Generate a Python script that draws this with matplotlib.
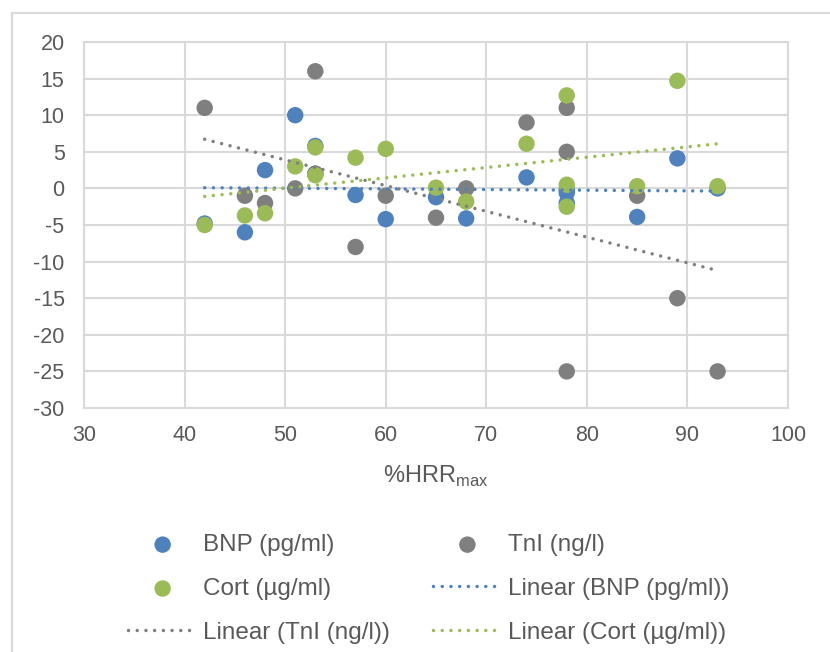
import matplotlib
matplotlib.use("Agg")
import matplotlib.pyplot as plt
import numpy as np
from matplotlib.lines import Line2D

# %HRRmax per subject and change in each biomarker
hrr = [42, 46, 48, 51, 53, 53, 57, 60, 65, 68, 74, 78, 78, 78, 85, 89, 93]
bnp = [-4.8, -6.0, 2.5, 10.0, 5.8, 2.0, -0.9, -4.2, -1.2, -4.1, 1.5,
       -0.6, -2.0, -0.2, -3.9, 4.1, 0.0]
tni = [11, -1, -2, 0, 16, 2, -8, -1, -4, 0, 9, 11, 5, -25, -1, -15, -25]
cort = [-5.0, -3.7, -3.4, 3.0, 5.6, 1.8, 4.2, 5.4, 0.1, -1.8, 6.1,
        12.7, 0.5, -2.5, 0.3, 14.7, 0.3]

series = [
    ("BNP (pg/ml)", bnp, "#4f81bd"),
    ("TnI (ng/l)", tni, "#7f7f7f"),
    ("Cort (µg/ml)", cort, "#9bbb59"),
]

x_ticks = [30, 40, 50, 60, 70, 80, 90, 100]
y_ticks = [20, 15, 10, 5, 0, -5, -10, -15, -20, -25, -30]

plt.rcParams["font.family"] = ["Liberation Sans", "DejaVu Sans"]
plt.rcParams["axes.unicode_minus"] = False
TEXT = "#595959"
GRID = "#d9d9d9"
DOTS = (0, (0.01, 2.5))

fig = plt.figure(figsize=(8.3, 6.52), dpi=100)
ax = fig.add_axes([84 / 830, 1 - 408 / 652, 704 / 830, 366 / 652])

x = np.array(hrr, dtype=float)
scatters, trends = [], []
for name, vals, col in series:
    sc = ax.scatter(x, vals, s=140, color=col, edgecolors="none", zorder=3,
                    label=name)
    scatters.append(sc)

for name, vals, col in series:
    k, b = np.polyfit(x, vals, 1)
    xs = np.array([x.min(), x.max()])
    ln, = ax.plot(xs, k * xs + b, color=col, lw=2.5, ls=DOTS,
                  dash_capstyle="round", zorder=4,
                  label=f"Linear ({name})")
    trends.append(ln)

ax.set_xlim(30, 100)
ax.set_ylim(-30, 20)
ax.set_xticks(x_ticks)
ax.set_yticks(y_ticks)
ax.grid(True, color=GRID, lw=1.5, zorder=0)
ax.set_axisbelow(True)
for sp in ax.spines.values():
    sp.set_color(GRID)
    sp.set_linewidth(1.5)
ax.tick_params(axis="both", length=0, labelsize=15.5, colors=TEXT)
ax.tick_params(axis="y", pad=14)
ax.tick_params(axis="x", pad=12)
ax.set_xlabel("%HRR$_{\\mathregular{max}}$", fontsize=17, color=TEXT,
              labelpad=13)

# chart frame (left and top edges visible)
fig.add_artist(Line2D([12 / 830, 12 / 830], [0, 1 - 13 / 652],
                      transform=fig.transFigure, color=GRID, lw=1.5))
fig.add_artist(Line2D([12 / 830, 1], [1 - 13 / 652, 1 - 13 / 652],
                      transform=fig.transFigure, color=GRID, lw=1.5))

# two-column legend, filled column by column
handles = [scatters[0], scatters[2], trends[1],
           scatters[1], trends[0], trends[2]]
fig.legend(handles=handles, labels=[h.get_label() for h in handles],
           ncol=2, loc="upper left", bbox_to_anchor=(128 / 830, 1 - 534 / 652),
           frameon=False, fontsize=17.5, labelcolor=TEXT, handlelength=2.85,
           handletextpad=0.25, columnspacing=1.75, labelspacing=0.9,
           borderpad=0, borderaxespad=0, markerscale=1.0)

fig.savefig("out.png", dpi=100, facecolor="white")
